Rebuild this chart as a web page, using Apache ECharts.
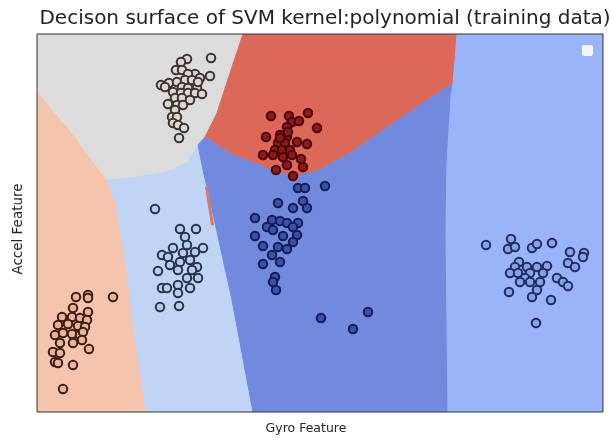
<!DOCTYPE html>
<html>
<head>
<meta charset="utf-8">
<script src="https://cdn.jsdelivr.net/npm/echarts@6/dist/echarts.min.js"></script>
<style>
  html, body { margin: 0; padding: 0; background: #fff; }
  #chart { width: 611px; height: 440px; }
</style>
</head>
<body>
<div id="chart"></div>
<script>
// plot extent (feature units)
const xRange = [0, 5.66];
const yRange = [0, 3.78];

// decision regions: polygon vertices [gyro, accel]
const regionSalmon = [[0,3.22],[0.13,3.05],[0.33,2.82],[0.53,2.55],[0.70,2.32],[0.78,2.12],[0.85,1.72],[0.91,1.32],[0.97,0.82],[1.03,0.42],[1.09,0],[0,0]];
const regionGray = [[0,3.78],[2.06,3.78],[1.93,3.39],[1.80,2.99],[1.68,2.75],[1.61,2.67],[1.50,2.49],[1.26,2.39],[0.93,2.34],[0.70,2.32],[0.53,2.55],[0.33,2.82],[0.13,3.05],[0,3.22]];
const regionRed = [[2.06,3.78],[4.20,3.78],[4.18,3.52],[4.16,3.29],[3.80,3.05],[3.46,2.82],[3.13,2.59],[2.83,2.42],[2.56,2.35],[2.30,2.44],[1.96,2.57],[1.68,2.75],[1.80,2.99],[1.93,3.39]];
const regionLightBlue = [[0.70,2.32],[0.93,2.34],[1.26,2.39],[1.50,2.49],[1.61,2.67],[1.66,2.42],[1.73,2.12],[1.95,1.12],[2.16,0],[1.09,0],[1.03,0.42],[0.97,0.82],[0.91,1.32],[0.85,1.72],[0.78,2.12]];
const regionMidBlue = [[1.68,2.75],[1.96,2.57],[2.30,2.44],[2.56,2.35],[2.83,2.42],[3.13,2.59],[3.46,2.82],[3.80,3.05],[4.16,3.29],[4.14,3.15],[4.10,2.49],[4.09,1.82],[4.11,0],[2.16,0],[1.95,1.12],[1.73,2.12],[1.66,2.42],[1.61,2.67]];
const regionPeriwinkle = [[4.20,3.78],[5.66,3.78],[5.66,0],[4.11,0],[4.09,1.82],[4.10,2.49],[4.14,3.15],[4.16,3.29],[4.18,3.52]];
const regionSliver = [[1.685,2.25],[1.705,2.25],[1.765,1.87],[1.745,1.87]];

const regions = [regionSalmon, regionGray, regionRed, regionLightBlue, regionMidBlue, regionPeriwinkle, regionSliver];
const regionColors = ['#f5c4ac', '#dddcdc', '#dc6858', '#c0d4f5', '#718ade', '#99b4f9', '#d97866'];

// training points per class
const classGray = [[1.50,3.53],[1.44,3.50],[1.74,3.54],[1.39,3.42],[1.45,3.42],[1.73,3.36],[1.58,3.38],[1.51,3.38],[1.63,3.34],[1.24,3.27],[1.32,3.29],[1.40,3.30],[1.48,3.32],[1.55,3.32],[1.45,3.25],[1.51,3.24],[1.60,3.24],[1.36,3.20],[1.44,3.19],[1.51,3.19],[1.58,3.19],[1.65,3.18],[1.38,3.14],[1.45,3.14],[1.53,3.12],[1.31,3.08],[1.40,3.07],[1.46,3.07],[1.38,3.02],[1.35,2.95],[1.40,2.95],[1.36,2.89],[1.41,2.87],[1.47,2.84],[1.42,2.74],[1.28,3.25],[1.61,3.30]];
const classRed = [[2.34,2.96],[2.52,2.96],[2.71,2.99],[2.55,2.90],[2.62,2.91],[2.50,2.85],[2.80,2.84],[2.29,2.75],[2.43,2.77],[2.50,2.75],[2.41,2.69],[2.48,2.69],[2.60,2.70],[2.70,2.68],[2.38,2.62],[2.45,2.62],[2.53,2.62],[2.26,2.57],[2.36,2.57],[2.46,2.55],[2.55,2.57],[2.64,2.53],[2.50,2.47],[2.66,2.45],[2.39,2.42],[2.56,2.36],[2.43,2.74],[2.51,2.80]];
const classDarkBlue = [[2.61,2.24],[2.68,2.24],[2.88,2.26],[2.41,2.09],[2.66,2.11],[2.56,2.04],[2.70,2.04],[2.18,1.94],[2.35,1.92],[2.43,1.91],[2.50,1.89],[2.61,1.89],[2.30,1.85],[2.36,1.82],[2.56,1.85],[2.18,1.76],[2.46,1.76],[2.60,1.77],[2.56,1.70],[2.26,1.66],[2.41,1.65],[2.50,1.63],[2.35,1.57],[2.43,1.50],[2.26,1.48],[2.38,1.35],[2.36,1.30],[2.39,1.22],[2.84,0.94],[3.31,1.00],[3.16,0.83]];
const classLightBlue = [[1.18,2.03],[1.43,1.83],[1.59,1.83],[1.48,1.75],[1.36,1.64],[1.50,1.67],[1.66,1.64],[1.25,1.57],[1.31,1.55],[1.46,1.59],[1.58,1.60],[1.33,1.47],[1.43,1.50],[1.53,1.52],[1.60,1.45],[1.21,1.41],[1.41,1.42],[1.55,1.42],[1.50,1.34],[1.61,1.34],[1.25,1.24],[1.30,1.24],[1.41,1.27],[1.53,1.24],[1.41,1.19],[1.23,1.05],[1.42,1.06]];
const classSalmon = [[0.39,1.15],[0.51,1.17],[0.51,1.14],[0.76,1.15],[0.36,1.04],[0.51,1.00],[0.25,0.95],[0.35,0.95],[0.43,0.94],[0.50,0.92],[0.21,0.87],[0.31,0.88],[0.41,0.86],[0.48,0.85],[0.18,0.77],[0.26,0.79],[0.35,0.78],[0.43,0.77],[0.46,0.80],[0.23,0.69],[0.36,0.69],[0.45,0.72],[0.52,0.63],[0.16,0.60],[0.23,0.59],[0.18,0.50],[0.21,0.49],[0.36,0.47],[0.26,0.23]];
const classPeriwinkle = [[4.49,1.67],[4.74,1.73],[4.71,1.63],[4.78,1.65],[4.95,1.64],[5.00,1.68],[5.15,1.69],[5.33,1.60],[5.47,1.59],[5.46,1.55],[5.31,1.49],[5.38,1.45],[4.82,1.50],[4.90,1.45],[5.00,1.45],[5.10,1.46],[4.78,1.45],[4.73,1.39],[4.81,1.39],[4.93,1.39],[5.06,1.39],[4.88,1.34],[4.83,1.30],[4.93,1.30],[5.03,1.30],[5.20,1.34],[5.26,1.30],[5.31,1.26],[5.00,1.22],[4.72,1.20],[4.95,1.15],[5.14,1.12],[4.99,0.89]];

const chart = echarts.init(document.getElementById('chart'));

function pointSeries(data, fill, edge) {
  return {
    type: 'scatter',
    data: data,
    symbolSize: 8.5,
    itemStyle: { color: fill, borderColor: edge, borderWidth: 2, opacity: 1 },
    silent: true,
    z: 5
  };
}

const option = {
  animation: false,
  title: {
    text: 'Decison surface of SVM kernel:polynomial (training data)',
    left: 320, textAlign: 'center', top: 4,
    textStyle: { fontFamily: 'DejaVu Sans', fontSize: 20, fontWeight: 'normal', color: '#222' }
  },
  grid: { left: 37, right: 8, top: 34, bottom: 28, show: true, borderColor: '#333', borderWidth: 1, backgroundColor: 'transparent', z: 10 },
  xAxis: {
    type: 'value', min: xRange[0], max: xRange[1],
    name: 'Gyro Feature', nameLocation: 'middle', nameGap: 10,
    nameTextStyle: { fontFamily: 'DejaVu Sans', fontSize: 12.5, color: '#222', padding: [0, 28, 0, 0] },
    axisLine: { show: false }, axisTick: { show: false }, axisLabel: { show: false }, splitLine: { show: false }
  },
  yAxis: {
    type: 'value', min: yRange[0], max: yRange[1],
    name: 'Accel Feature', nameLocation: 'middle', nameGap: 12,
    nameTextStyle: { fontFamily: 'DejaVu Sans', fontSize: 13.5, color: '#222', padding: [0, 12, 0, 0] },
    axisLine: { show: false }, axisTick: { show: false }, axisLabel: { show: false }, splitLine: { show: false }
  },
  graphic: [{
    type: 'rect', right: 18, top: 45,
    shape: { width: 11, height: 11, r: 2 },
    style: { fill: '#f4f6fb' }, z: 20
  }],
  series: [
    {
      type: 'custom',
      data: regions.map((r, i) => [i]),
      clip: true,
      silent: true,
      z: 1,
      renderItem: function (params, api) {
        const idx = params.dataIndex;
        const pts = regions[idx].map(p => api.coord(p));
        return {
          type: 'polygon',
          shape: { points: pts },
          style: { fill: regionColors[idx], stroke: regionColors[idx], lineWidth: 1 }
        };
      }
    },
    pointSeries(classGray, '#ddd6d2', '#3a3533'),
    pointSeries(classSalmon, '#e8b49c', '#3d1d12'),
    pointSeries(classLightBlue, '#b8ccee', '#27334d'),
    pointSeries(classRed, '#8c1a1c', '#4a0606'),
    pointSeries(classDarkBlue, '#3c4fae', '#141d55'),
    pointSeries(classPeriwinkle, '#86a2ea', '#222d5c')
  ]
};

chart.setOption(option);
</script>
</body>
</html>
